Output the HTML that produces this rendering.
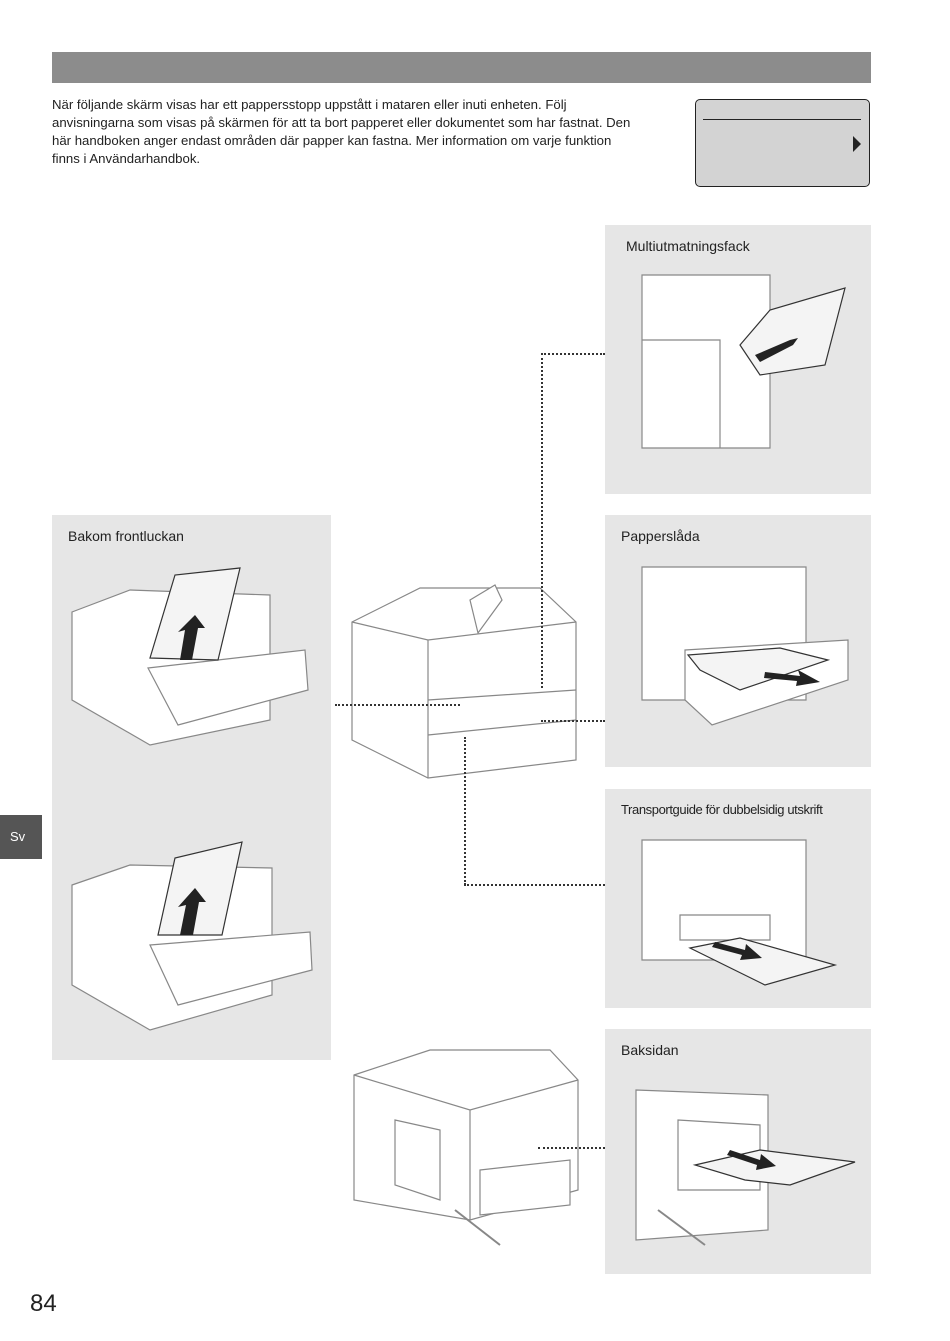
<!DOCTYPE html>
<html><head><meta charset="utf-8"><style>
body{margin:0;background:#fff;font-family:"Liberation Sans",sans-serif;}
.pg{position:relative;width:950px;height:1341px;overflow:hidden;background:#fff}
.a{position:absolute}
.panel{position:absolute;background:#e6e6e6}
.lbl{position:absolute;font-size:14px;color:#222}
.dot{position:absolute;border:0 dotted #333}
</style></head><body><div class="pg">
<div class="a" style="left:52px;top:52px;width:819px;height:31px;background:#8c8c8c"></div>
<div class="a" style="left:52px;top:96px;font-size:13.2px;line-height:18px;color:#222;white-space:nowrap">När följande skärm visas har ett pappersstopp uppstått i mataren eller inuti enheten. Följ<br>anvisningarna som visas på skärmen för att ta bort papperet eller dokumentet som har fastnat. Den<br>här handboken anger endast områden där papper kan fastna. Mer information om varje funktion<br>finns i Användarhandbok.</div>
<div class="a" style="left:695px;top:99px;width:173px;height:86px;background:#d3d3d3;border:1.5px solid #222;border-radius:5px"></div>
<div class="a" style="left:703px;top:119px;width:158px;height:1px;background:#222"></div>
<div class="a" style="left:853px;top:136px;width:0;height:0;border-top:8px solid transparent;border-bottom:8px solid transparent;border-left:8px solid #222"></div>

<div class="panel" style="left:52px;top:515px;width:279px;height:545px"></div>
<div class="panel" style="left:605px;top:225px;width:266px;height:269px"></div>
<div class="panel" style="left:605px;top:515px;width:266px;height:252px"></div>
<div class="panel" style="left:605px;top:789px;width:266px;height:219px"></div>
<div class="panel" style="left:605px;top:1029px;width:266px;height:245px"></div>
<div class="lbl" style="left:68px;top:528px">Bakom frontluckan</div>
<div class="lbl" style="left:626px;top:238px">Multiutmatningsfack</div>
<div class="lbl" style="left:621px;top:528px">Papperslåda</div>
<div class="lbl" style="left:621px;top:802px;font-size:13px;letter-spacing:-0.4px">Transportguide för dubbelsidig utskrift</div>
<div class="lbl" style="left:621px;top:1042px">Baksidan</div>

<div class="a" style="left:0;top:815px;width:42px;height:44px;background:#555;color:#fff;font-size:13px;line-height:44px;text-indent:10px">Sv</div>
<div class="a" style="left:30px;top:1290px;font-size:24px;color:#222">84</div>

<svg class="a" style="left:0;top:0" width="950" height="1341" fill="#fff" stroke="#888" stroke-width="1.2">
<path d="M352 622 L420 588 L540 588 L576 622 L576 760 L428 778 L352 740 Z"/>
<path d="M352 622 L428 640 L576 622 M428 640 L428 778 M428 700 L576 690 M428 735 L576 720"/>
<path d="M470 600 L495 585 L502 600 L478 633 Z"/>
<path d="M354 1075 L430 1050 L550 1050 L578 1080 L578 1190 L470 1220 L354 1200 Z"/>
<path d="M354 1075 L470 1110 L578 1080 M470 1110 L470 1220 M395 1120 L440 1130 L440 1200 L395 1185 Z M480 1170 L570 1160 L570 1205 L480 1215 Z"/>
<path d="M455 1210 L500 1245" fill="none" stroke-width="2"/>
<path d="M72 612 L130 590 L270 595 L270 720 L150 745 L72 700 Z"/>
<path d="M148 668 L305 650 L308 690 L178 725 Z"/>
<path d="M150 658 L175 575 L240 568 L218 660 Z" fill="#f4f4f4" stroke="#333"/>
<path d="M180 660 L185 630 L178 632 L195 615 L205 628 L198 628 L192 660 Z" fill="#222" stroke="none"/>
<path d="M72 885 L130 865 L272 868 L272 995 L150 1030 L72 985 Z"/>
<path d="M150 945 L310 932 L312 970 L178 1005 Z"/>
<path d="M158 935 L175 858 L242 842 L222 935 Z" fill="#f4f4f4" stroke="#333"/>
<path d="M180 935 L186 905 L178 907 L195 888 L206 902 L199 902 L193 935 Z" fill="#222" stroke="none"/>
<path d="M642 275 L770 275 L770 448 L642 448 Z M642 340 L720 340 L720 448"/>
<path d="M740 345 L770 310 L845 288 L825 365 L760 375 Z" fill="#f4f4f4" stroke="#333"/>
<path d="M755 355 L790 340 L798 338 L793 345 L760 362 Z" fill="#222" stroke="none"/>
<path d="M642 567 L806 567 L806 700 L642 700 Z"/>
<path d="M685 650 L848 640 L848 680 L712 725 L685 700 Z"/>
<path d="M688 655 L780 648 L828 660 L740 690 L700 670 Z" fill="#f4f4f4" stroke="#333"/>
<path d="M765 672 L800 676 L798 670 L820 682 L796 686 L797 681 L764 678 Z" fill="#222" stroke="none"/>
<path d="M642 840 L806 840 L806 960 L642 960 Z M680 915 L770 915 L770 940 L680 940 Z"/>
<path d="M690 948 L740 938 L835 965 L765 985 Z" fill="#f4f4f4" stroke="#333"/>
<path d="M715 942 L745 950 L746 944 L762 958 L740 960 L742 955 L712 947 Z" fill="#222" stroke="none"/>
<path d="M636 1090 L768 1095 L768 1230 L636 1240 Z M678 1120 L760 1125 L760 1190 L678 1190 Z"/>
<path d="M695 1165 L760 1150 L855 1162 L790 1185 L745 1180 Z" fill="#f4f4f4" stroke="#333"/>
<path d="M730 1150 L760 1160 L761 1154 L776 1166 L756 1170 L757 1165 L727 1155 Z" fill="#222" stroke="none"/>
<path d="M658 1210 L705 1245" fill="none" stroke-width="2"/>
</svg>

<div class="dot" style="left:541px;top:353px;width:64px;border-top-width:2px"></div>
<div class="dot" style="left:541px;top:353px;height:335px;border-left-width:2px"></div>
<div class="dot" style="left:335px;top:704px;width:125px;border-top-width:2px"></div>
<div class="dot" style="left:541px;top:720px;width:64px;border-top-width:2px"></div>
<div class="dot" style="left:464px;top:737px;height:148px;border-left-width:2px"></div>
<div class="dot" style="left:464px;top:884px;width:141px;border-top-width:2px"></div>
<div class="dot" style="left:538px;top:1147px;width:67px;border-top-width:2px"></div>
</div></body></html>
